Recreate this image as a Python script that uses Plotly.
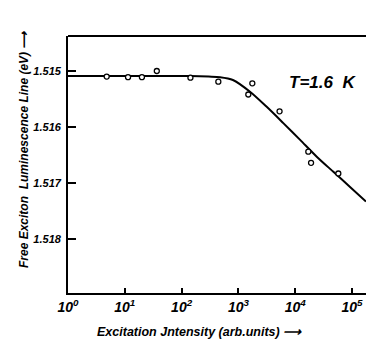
import plotly.graph_objects as go

# measured points (excitation intensity, line energy eV)
pt_x = [4.8, 11.4, 20.0, 36.6, 143, 443, 1493, 1757, 5300, 17000, 19000, 57400]
pt_y = [1.51510, 1.51511, 1.51511, 1.51500, 1.51512, 1.51519, 1.51542, 1.51522,
        1.51572, 1.51644, 1.51664, 1.51683]

# fitted curve
curve_x = [1, 10, 100, 140, 300, 475, 800, 1600, 3150, 6170, 12200, 23900, 46900, 92300, 176000]
curve_y = [1.51509, 1.51509, 1.51509, 1.51509, 1.51510, 1.51511, 1.51516, 1.51537,
           1.51564, 1.51593, 1.51623, 1.51653, 1.51680, 1.51707, 1.51733]

y_ticks = [1.515, 1.516, 1.517, 1.518]
y_tick_text = ["1.515", "1.516", "1.517", "1.518"]
x_ticks = [1, 10, 100, 1000, 10000, 100000]
x_tick_text = ["10<sup>0</sup>", "10<sup>1</sup>", "10<sup>2</sup>",
               "10<sup>3</sup>", "10<sup>4</sup>", "10<sup>5</sup>"]

FONT = "Liberation Sans, Arial, sans-serif"

fig = go.Figure()
fig.add_trace(go.Scatter(x=curve_x, y=curve_y, mode="lines",
                         line=dict(color="black", width=2, shape="spline", smoothing=0.8),
                         hoverinfo="skip", showlegend=False))
fig.add_trace(go.Scatter(x=pt_x, y=pt_y, mode="markers",
                         marker=dict(symbol="circle", size=5, color="white",
                                     line=dict(color="black", width=1.3)),
                         showlegend=False))

fig.update_layout(
    template="none",
    width=366, height=341,
    margin=dict(l=68, r=0, t=36, b=48, autoexpand=False),
    paper_bgcolor="white", plot_bgcolor="white",
    font=dict(family=FONT, color="black"),
    xaxis=dict(type="log", range=[0, 5.246], showgrid=False, zeroline=False,
               automargin=False,
               showline=True, linecolor="black", linewidth=1.8,
               ticks="inside", ticklen=5, tickwidth=1.5, tickcolor="black",
               tickvals=x_ticks, ticktext=x_tick_text,
               tickfont=dict(size=14, family=FONT, style="italic", weight="bold")),
    yaxis=dict(range=[1.518964, 1.514375], showgrid=False, zeroline=False,
               automargin=False,
               showline=True, linecolor="black", linewidth=1.8,
               ticks="inside", ticklen=8, tickwidth=1.5, tickcolor="black",
               tickvals=y_ticks, ticktext=y_tick_text, ticklabelstandoff=3,
               tickfont=dict(size=11, family=FONT, style="italic", weight="bold")),
    shapes=[dict(type="line", xref="paper", yref="paper", x0=0, x1=1, y0=1, y1=1,
                 line=dict(color="black", width=1.8))],
    annotations=[
        dict(text="T=1.6  K", xref="paper", yref="paper", x=(358-68)/298, y=(293-82)/257,
             xanchor="right", yanchor="middle", showarrow=False,
             font=dict(size=17, family=FONT, style="italic", weight="bold")),
        dict(text="Excitation Jntensity (arb.units) ⟶", xref="paper", yref="paper",
             x=(95-68)/298, y=(293-332)/257, xanchor="left", yanchor="middle",
             showarrow=False,
             font=dict(size=12.5, family=FONT, style="italic", weight="bold")),
        dict(text="Free Exciton  Luminescence Line (eV) ⟶", xref="paper", yref="paper",
             x=(24-68)/298, y=(293-150)/257, xanchor="center", yanchor="middle",
             textangle=-90, showarrow=False,
             font=dict(size=12, family=FONT, style="italic", weight="bold")),
    ],
)

fig.write_html("out.html", config={"displayModeBar": False},
               post_script="document.body.style.margin='0';document.body.style.overflow='hidden';")
